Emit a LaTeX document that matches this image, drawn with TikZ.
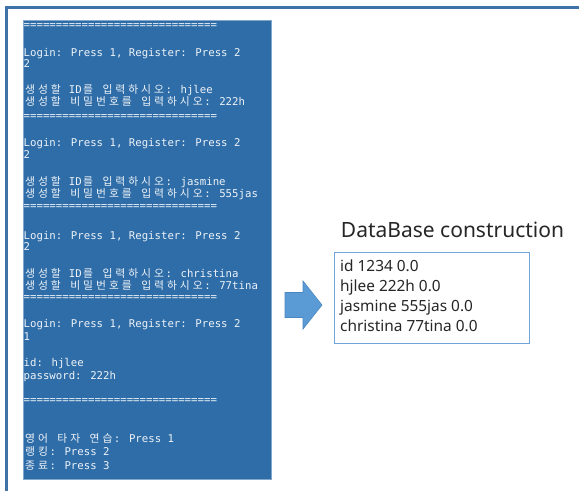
\documentclass[tikz,border=0pt]{standalone}
\usepackage{fontspec}
\setmainfont{Noto Sans}
\newfontfamily\krfont{Noto Sans CJK KR}
\newfontfamily\conmono{DejaVu Sans Mono}
\definecolor{conblue}{HTML}{2F6DA8}
\definecolor{framebl}{HTML}{3F72A6}
\definecolor{arrowbl}{HTML}{5B9BD5}
\definecolor{arrowln}{HTML}{4A86C0}
\definecolor{boxln}{HTML}{6FA5D8}
\definecolor{contxt}{HTML}{EEF3F8}
% each Hangul syllable takes two console cells
\def\hgl#1{\hglx#1\relax}
\def\hglx#1{\ifx#1\relax\else\makebox[12.9pt]{\krfont\fontsize{10.8}{12}\selectfont#1}\expandafter\hglx\fi}
\begin{document}
\begin{tikzpicture}[x=1pt,y=-1pt,
  conline/.style={anchor=west, inner sep=0pt, text=contxt,
    font=\conmono\fontsize{10.7}{13}\selectfont, text height=8pt, text depth=2pt},
  eqline/.style={conline, text height=5pt, text depth=0pt},
  dbline/.style={anchor=west, inner sep=0pt, text=black!85,
    font=\fontsize{15.4}{18}\selectfont, text height=11pt, text depth=3.5pt},
  frameline/.style={draw=framebl, line width=3pt}]
\useasboundingbox (0,0) rectangle (580,491);
\fill[white] (0,0) rectangle (580,491);
\draw[frameline] (5,7.5) -- (579,7.5);
\draw[frameline] (6.5,6) -- (6.5,491);
% console
\node (console) [fill=conblue, draw=conblue!60!white, line width=0.6pt, anchor=north west,
  minimum width=248pt, minimum height=459pt, inner sep=0pt] at (23,20) {};
\node[eqline] (l01) at (23.5,26)  {==============================};
\node[conline] (l02) at (23.5,53)  {Login: Press 1, Register: Press 2};
\node[conline] (l03) at (23.5,64)  {2};
\node[conline] (l04) at (23.5,90.5)  {\hgl{생성할} ID\hgl{를} \hgl{입력하시오}: hjlee};
\node[conline] (l05) at (23.5,102) {\hgl{생성할} \hgl{비밀번호를} \hgl{입력하시오}: 222h};
\node[eqline] (l06) at (23.5,117) {==============================};
\node[conline] (l07) at (23.5,143) {Login: Press 1, Register: Press 2};
\node[conline] (l08) at (23.5,155) {2};
\node[conline] (l09) at (23.5,182.5) {\hgl{생성할} ID\hgl{를} \hgl{입력하시오}: jasmine};
\node[conline] (l10) at (23.5,194) {\hgl{생성할} \hgl{비밀번호를} \hgl{입력하시오}: 555jas};
\node[eqline] (l11) at (23.5,207) {==============================};
\node[conline] (l12) at (23.5,236) {Login: Press 1, Register: Press 2};
\node[conline] (l13) at (23.5,247) {2};
\node[conline] (l14) at (23.5,274.5) {\hgl{생성할} ID\hgl{를} \hgl{입력하시오}: christina};
\node[conline] (l15) at (23.5,286) {\hgl{생성할} \hgl{비밀번호를} \hgl{입력하시오}: 77tina};
\node[eqline] (l16) at (23.5,298) {==============================};
\node[conline] (l17) at (23.5,324) {Login: Press 1, Register: Press 2};
\node[conline] (l18) at (23.5,337) {1};
\node[conline] (l19) at (23.5,363) {id: hjlee};
\node[conline] (l20) at (23.5,376) {password: 222h};
\node[eqline] (l21) at (23.5,401) {==============================};
\node[conline] (l22) at (23.5,439) {\hgl{영어} \hgl{타자} \hgl{연습}: Press 1};
\node[conline] (l23) at (23.5,452.5) {\hgl{랭킹}: Press 2};
\node[conline] (l24) at (23.5,466) {\hgl{종료}: Press 3};
% arrow
\filldraw[fill=arrowbl, draw=arrowln, line width=0.6pt]
  (285,292.5) -- (303,292.5) -- (303,281) -- (322,305) -- (303,329) -- (303,317.5) -- (285,317.5) -- cycle;
% database
\node (title) [inner sep=0pt, font=\fontsize{21}{25}\selectfont, text=black!85] at (452.5,230) {DataBase construction};
\node (db) [draw=boxln, line width=1.3pt, fill=white, anchor=north west,
  minimum width=195pt, minimum height=91pt, inner sep=0pt] at (334,252) {};
\node[dbline] (d1) at (340,268) {id 1234 0.0};
\node[dbline] (d2) at (340,288) {hjlee 222h 0.0};
\node[dbline] (d3) at (340,308) {jasmine 555jas 0.0};
\node[dbline] (d4) at (340,328) {christina 77tina 0.0};
\end{tikzpicture}
\end{document}
